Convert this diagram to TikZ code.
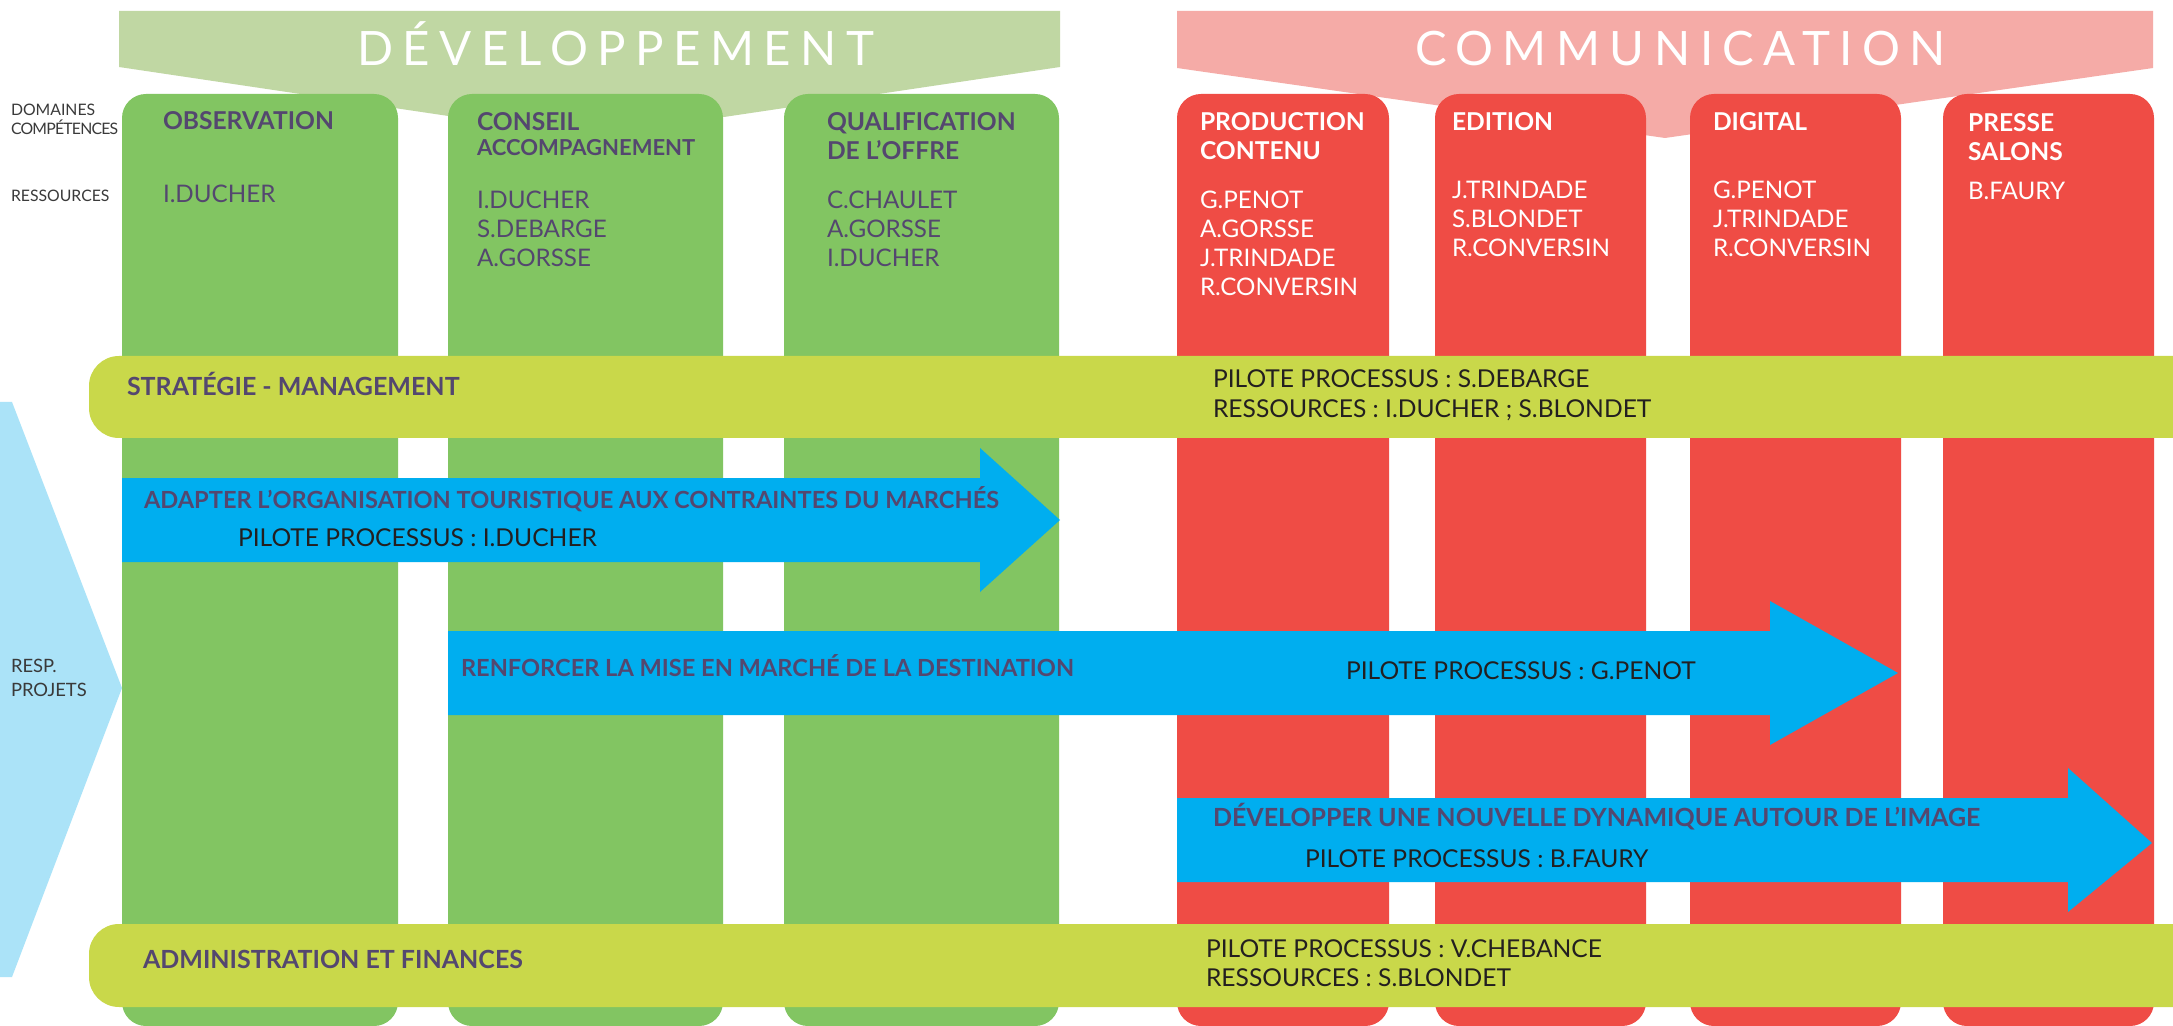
\documentclass[tikz,border=0pt]{standalone}
\usepackage{fontspec}
\setmainfont{Lato}
\definecolor{colG}{HTML}{82C562}
\definecolor{colGl}{HTML}{C0D7A3}
\definecolor{colR}{HTML}{EF4C45}
\definecolor{colRl}{HTML}{F5ABA7}
\definecolor{colBar}{HTML}{C9D84A}
\definecolor{colBlue}{HTML}{00AEEF}
\definecolor{colBl}{HTML}{ABE3F8}
\definecolor{colP}{HTML}{54476F}
\definecolor{colK}{HTML}{231F20}
\definecolor{colLab}{HTML}{3A3A3A}
\tikzset{
  txt/.style={anchor=base west, inner sep=0pt, outer sep=0pt},
  hd/.style={txt, text=colP, font=\fontsize{12.3}{14}\selectfont\bfseries},
  hdbar/.style={txt, text=colP, font=\fontsize{12.5}{14}\selectfont\bfseries},
  hdarr/.style={txt, text=colP, font=\fontsize{11.8}{14}\selectfont\bfseries},
  hdsm/.style={txt, text=colP, font=\fontsize{11}{12}\selectfont\bfseries},
  hdw/.style={txt, text=white, font=\fontsize{12.3}{14}\selectfont\bfseries},
  nm/.style={txt, text=colP, font=\fontsize{12.1}{14}\selectfont},
  nmw/.style={txt, text=white, font=\fontsize{12.1}{14}\selectfont},
  blk/.style={txt, text=colK, font=\fontsize{12.3}{14}\selectfont},
  lab/.style={txt, text=colLab, font=\fontsize{7.9}{9}\selectfont},
  labb/.style={txt, text=colLab, font=\fontsize{9.2}{10}\selectfont},
  banner/.style={txt, text=white, font=\fontsize{23.7}{28}\selectfont\addfontfeatures{LetterSpace=20}},
  colbox/.style={rounded corners=12pt},
  barbox/.style={fill=colBar, rounded corners=15pt},
  arrowshape/.style={fill=colBlue}
}
\begin{document}
\begin{tikzpicture}[x=0.5pt,y=-0.5pt]
\useasboundingbox (0,0) rectangle (2173,1026);
\clip (0,0) rectangle (2173,1026);
\fill[white] (0,0) rectangle (2173,1026);

% banners
\fill[colGl] (119,11) -- (1060,11) -- (1060,67) -- (589.5,137) -- (119,67) -- cycle;
\fill[colRl] (1177,11) -- (2153,11) -- (2153,68) -- (1665,138) -- (1177,68) -- cycle;
\node[banner] (tDev) at (357,66) {DÉVELOPPEMENT};
\node[banner] (tCom) at (1415,66) {COMMUNICATION};

% left chevron
\fill[colBl] (0,402) -- (12,402) -- (122,688) -- (12,977) -- (0,977) -- cycle;

% columns
\fill[colG,colbox] (122,94) rectangle (398,1026);
\fill[colG,colbox] (448,94) rectangle (723,1026);
\fill[colG,colbox] (784,94) rectangle (1059,1026);
\fill[colR,colbox] (1177,94) rectangle (1389,1026);
\fill[colR,colbox] (1435,94) rectangle (1646,1026);
\fill[colR,colbox] (1690,94) rectangle (1901,1026);
\fill[colR,colbox] (1943,94) rectangle (2154,1026);

% left labels
\node[lab] (lDom) at (11,116) {DOMAINES};
\node[lab, font=\fontsize{7.9}{9}\selectfont\addfontfeatures{LetterSpace=-5}] (lComp) at (11,135) {COMPÉTENCES};
\node[lab] (lRes) at (11,202) {RESSOURCES};
\node[labb] (lResp) at (11,672) {RESP.};
\node[labb] (lProj) at (11,696) {PROJETS};

% column headings and resources
\node[hd] (hObs) at (163,130) {OBSERVATION};
\node[nm] (nObs1) at (163,203) {I.DUCHER};

\node[hd] (hCons1) at (477,131) {CONSEIL};
\node[hdsm] (hCons2) at (477,156) {ACCOMPAGNEMENT};
\node[nm] (nCons1) at (477,209) {I.DUCHER};
\node[nm] (nCons2) at (477,238) {S.DEBARGE};
\node[nm] (nCons3) at (477,267) {A.GORSSE};

\node[hd] (hQual1) at (827,131) {QUALIFICATION};
\node[hd] (hQual2) at (827,160) {DE L’OFFRE};
\node[nm] (nQual1) at (827,209) {C.CHAULET};
\node[nm] (nQual2) at (827,238) {A.GORSSE};
\node[nm] (nQual3) at (827,267) {I.DUCHER};

\node[hdw] (hProd1) at (1200,131) {PRODUCTION};
\node[hdw] (hProd2) at (1200,160) {CONTENU};
\node[nmw] (nProd1) at (1200,209) {G.PENOT};
\node[nmw] (nProd2) at (1200,238) {A.GORSSE};
\node[nmw] (nProd3) at (1200,267) {J.TRINDADE};
\node[nmw] (nProd4) at (1200,296) {R.CONVERSIN};

\node[hdw] (hEdit) at (1452,131) {EDITION};
\node[nmw] (nEdit1) at (1452,199) {J.TRINDADE};
\node[nmw] (nEdit2) at (1452,228) {S.BLONDET};
\node[nmw] (nEdit3) at (1452,257) {R.CONVERSIN};

\node[hdw] (hDig) at (1713,131) {DIGITAL};
\node[nmw] (nDig1) at (1713,199) {G.PENOT};
\node[nmw] (nDig2) at (1713,228) {J.TRINDADE};
\node[nmw] (nDig3) at (1713,257) {R.CONVERSIN};

\node[hdw] (hPres1) at (1968,132) {PRESSE};
\node[hdw] (hPres2) at (1968,161) {SALONS};
\node[nmw] (nPres1) at (1968,200) {B.FAURY};

% bars
\fill[barbox] (89,356) rectangle (2230,438);
\fill[barbox] (89,924) rectangle (2230,1007);
\node[hdbar] (bStrat) at (127,395) {STRATÉGIE - MANAGEMENT};
\node[blk] (bStratP) at (1213,388) {PILOTE PROCESSUS : S.DEBARGE};
\node[blk] (bStratR) at (1213,418) {RESSOURCES : I.DUCHER ; S.BLONDET};
\node[hdbar] (bAdm) at (143,968) {ADMINISTRATION ET FINANCES};
\node[blk] (bAdmP) at (1206,957) {PILOTE PROCESSUS : V.CHEBANCE};
\node[blk] (bAdmR) at (1206,986) {RESSOURCES : S.BLONDET};

% arrows
\fill[arrowshape] (122,478) -- (980,478) -- (980,448) -- (1060,520) -- (980,592) -- (980,562) -- (122,562) -- cycle;
\fill[arrowshape] (448,631) -- (1770,631) -- (1770,601) -- (1898,673) -- (1770,745) -- (1770,715) -- (448,715) -- cycle;
\fill[arrowshape] (1177,798) -- (2068,798) -- (2068,768) -- (2152,843) -- (2068,912) -- (2068,882) -- (1177,882) -- cycle;

\node[hdarr] (a1t) at (144,508) {ADAPTER L’ORGANISATION TOURISTIQUE AUX CONTRAINTES DU MARCHÉS};
\node[blk] (a1p) at (238,546) {PILOTE PROCESSUS : I.DUCHER};
\node[hdarr] (a2t) at (461,676) {RENFORCER LA MISE EN MARCHÉ DE LA DESTINATION};
\node[blk] (a2p) at (1346,679) {PILOTE PROCESSUS : G.PENOT};
\node[hdbar] (a3t) at (1213,826) {DÉVELOPPER UNE NOUVELLE DYNAMIQUE AUTOUR DE L’IMAGE};
\node[blk] (a3p) at (1305,867) {PILOTE PROCESSUS : B.FAURY};
\end{tikzpicture}
\end{document}
